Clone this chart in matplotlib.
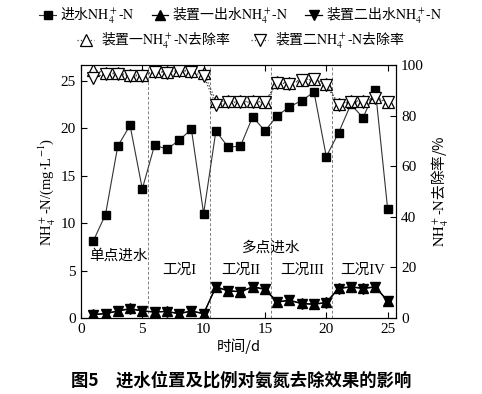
import matplotlib.pyplot as plt

plt.rcParams['font.family'] = ['Liberation Serif', 'Noto Sans CJK SC']
plt.rcParams['mathtext.fontset'] = 'stix'
plt.rcParams['font.size'] = 10.5
CJK = 'Noto Sans CJK SC'
NH = r'$\mathrm{NH_4^+\text{-}N}$'

days = list(range(1, 26))
influent = [8.1, 10.9, 18.1, 20.3, 13.6, 18.2, 17.8, 18.7, 19.9, 11.0,
            19.7, 18.0, 18.1, 21.2, 19.7, 21.3, 22.25, 22.9, 23.8, 17.0,
            19.5, 22.5, 21.1, 24.05, 11.5]
out1 = [0.38, 0.45, 0.75, 1.0, 0.75, 0.64, 0.7, 0.46, 0.75, 0.46,
        3.3, 2.87, 2.77, 3.3, 3.05, 1.7, 1.88, 1.53, 1.46, 1.64,
        3.13, 3.3, 3.13, 3.3, 1.8]
out2 = [0.34, 0.46, 0.72, 0.95, 0.72, 0.62, 0.68, 0.44, 0.72, 0.44,
        3.25, 2.85, 2.75, 3.25, 3.0, 1.66, 1.85, 1.5, 1.44, 1.6,
        3.1, 3.25, 3.1, 3.25, 1.78]
rate1 = [98.0, 96.9, 96.8, 96.0, 96.0, 97.6, 97.3, 98.1, 97.6, 97.0,
         85.8, 85.6, 85.6, 85.6, 85.5, 93.3, 92.9, 94.2, 94.6, 92.5,
         84.6, 85.8, 85.8, 87.2, 85.5]
rate2 = [95.0, 96.6, 96.5, 95.7, 95.7, 97.3, 97.0, 97.8, 97.3, 95.6,
         84.3, 85.2, 85.3, 85.3, 85.2, 92.9, 92.6, 93.9, 94.3, 92.0,
         84.2, 85.5, 85.5, 86.8, 85.2]
stage_bounds = [5.5, 10.5, 15.5, 20.5]
stage_labels = ['工况I', '工况II', '工况III', '工况IV']
stage_x = [8, 13, 18, 23]

fig = plt.figure(figsize=(4.82, 3.94), dpi=100)
ax = fig.add_axes([0.168, 0.193, 0.654, 0.642])
ax2 = ax.twinx()

for b in stage_bounds:
    ax.axvline(b, color='gray', linestyle=(0, (3, 2)), linewidth=0.7)

h1, = ax.plot(days, influent, '-', color='#333333', lw=0.8, marker='s',
              ms=5.5, mfc='black', mec='black', label='进水' + NH)
h2, = ax.plot(days, out1, '-', color='black', lw=0.9, marker='^',
              ms=6.5, mfc='black', mec='black', label='装置一出水' + NH)
h3, = ax.plot(days, out2, '-', color='black', lw=0.9, marker='v',
              ms=6.5, mfc='black', mec='black', label='装置二出水' + NH)
h4, = ax2.plot(days, rate1, ':', color='#444444', lw=0.9, marker='^',
               ms=8, mfc='white', mec='black', mew=0.9, label='装置一' + NH + '去除率')
h5, = ax2.plot(days, rate2, ':', color='#444444', lw=0.9, marker='v',
               ms=8, mfc='white', mec='black', mew=0.9, label='装置二' + NH + '去除率')

ax.set_xlim(0, 25.7)
ax.set_ylim(0, 26.65)
ax2.set_ylim(0, 100)
ax.set_xticks([0, 5, 10, 15, 20, 25])
ax.set_yticks([0, 5, 10, 15, 20, 25])
ax2.set_yticks([0, 20, 40, 60, 80, 100])
ax.tick_params(direction='in', top=True, length=4, labelsize=11)
ax2.tick_params(direction='in', length=4, labelsize=11)

ax.set_xlabel('时间/d', fontsize=10.5, labelpad=2, family=CJK)
ax.set_ylabel('NH$_4^+$-N/(mg·L$^{-1}$)', fontsize=10.5, labelpad=2)
ax2.set_ylabel(NH + '去除率/%', fontsize=10.5, labelpad=4, family=CJK)

ax.text(0.7, 6.6, '单点进水', ha='left', va='center', fontsize=10.5, family=CJK)
ax.text(15.5, 7.4, '多点进水', ha='center', va='center', fontsize=10.5, family=CJK)
for xs, lab in zip(stage_x, stage_labels):
    ax.text(xs, 5.0, lab, ha='center', va='center', fontsize=10.5)

leg_font = {'family': CJK, 'size': 10}
fig.legend(handles=[h1, h2, h3], loc='center', bbox_to_anchor=(0.5, 0.96),
           ncol=3, frameon=False, handlelength=1.2, handletextpad=0.3,
           columnspacing=1.2, prop=leg_font)
fig.legend(handles=[h4, h5], loc='center', bbox_to_anchor=(0.5, 0.895),
           ncol=2, frameon=False, handlelength=1.2, handletextpad=0.5,
           columnspacing=1.5, prop=leg_font)

fig.text(0.5, 0.035, '图5　进水位置及比例对氨氮去除效果的影响', ha='center',
         va='center', fontsize=12.5, fontweight='bold', family=CJK)

fig.savefig('out.png', dpi=100)
